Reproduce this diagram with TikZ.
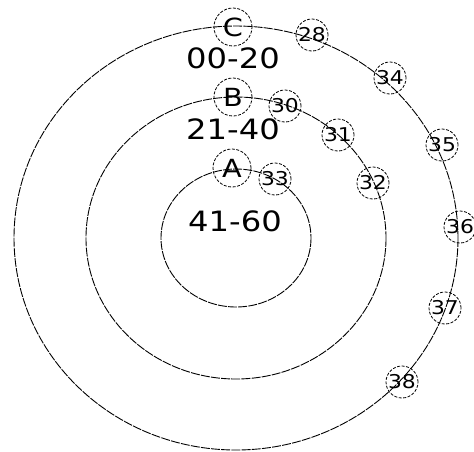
\documentclass[tikz,border=0pt]{standalone}
\usepackage{fontspec}
\setmainfont{DejaVu Sans}
\usepackage{graphicx}
\begin{document}
\begin{tikzpicture}[x=1pt,y=-1pt,
  ring/.style={line width=0.9pt, dash pattern=on 9pt off 1.2pt},
  lettercirc/.style={circle, draw, dash pattern=on 3pt off 1.5pt, line width=0.8pt, minimum size=38pt, inner sep=0pt, font=\fontsize{25}{25}\selectfont},
  numcirc/.style={circle, draw, dash pattern=on 3pt off 1.5pt, line width=0.8pt, minimum size=32pt, inner sep=0pt, font=\fontsize{19}{19}\selectfont},
  rangetext/.style={font=\fontsize{28}{28}\selectfont, inner sep=0pt}]
\useasboundingbox (0,0) rectangle (474,451);
\fill[white] (0,0) rectangle (474,451);
% concentric rings
\draw[ring] (236,238) ellipse [x radius=75, y radius=69];
\draw[ring] (236,238) ellipse [x radius=150, y radius=141];
\draw[ring] (236,238) ellipse [x radius=222, y radius=212];
% zone labels
\node[lettercirc] (C) at (233,27) {\scalebox{1.15}[1]{C}};
\node[lettercirc] (B) at (233,97) {\scalebox{1.15}[1]{B}};
\node[lettercirc] (A) at (232,168) {\scalebox{1.15}[1]{A}};
\node[rangetext] (r1) at (233,58) {\scalebox{1.15}[1]{00-20}};
\node[rangetext] (r2) at (233,129) {\scalebox{1.15}[1]{21-40}};
\node[rangetext] (r3) at (235,221) {\scalebox{1.15}[1]{41-60}};
% numbered points
\node[numcirc] (n28) at (312,35) {\scalebox{1.15}[1]{28}};
\node[numcirc] (n34) at (390,78) {\scalebox{1.15}[1]{34}};
\node[numcirc] (n35) at (442,145) {\scalebox{1.15}[1]{35}};
\node[numcirc] (n36) at (460,227) {\scalebox{1.15}[1]{36}};
\node[numcirc] (n37) at (445,308) {\scalebox{1.15}[1]{37}};
\node[numcirc] (n38) at (402,382) {\scalebox{1.15}[1]{38}};
\node[numcirc] (n30) at (285,106) {\scalebox{1.15}[1]{30}};
\node[numcirc] (n31) at (338,135) {\scalebox{1.15}[1]{31}};
\node[numcirc] (n32) at (373,183) {\scalebox{1.15}[1]{32}};
\node[numcirc] (n33) at (275,179) {\scalebox{1.15}[1]{33}};
\end{tikzpicture}
\end{document}
